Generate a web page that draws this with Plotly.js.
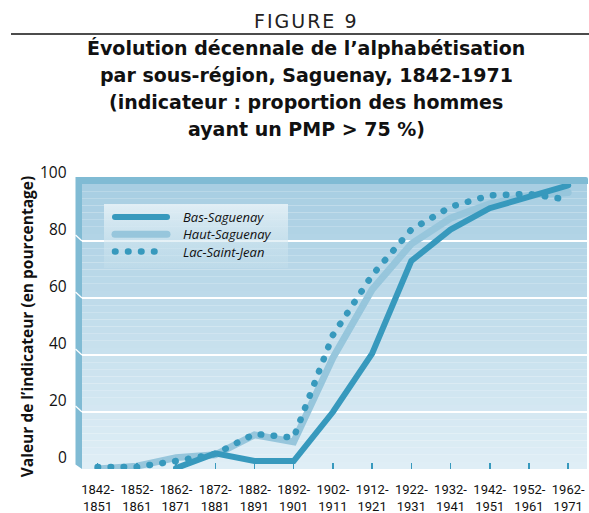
<!DOCTYPE html>
<html><head><meta charset="utf-8">
<script src="https://cdn.plot.ly/plotly-3.0.1.min.js"></script>
<style>
body{margin:0;background:#fff}
#chart{width:589px;height:513px}
.js-line{stroke-linecap:round !important}
.annotation[data-index="0"] text{letter-spacing:2px}
</style></head><body><div id="chart"></div>
<script>
// ---- data ----
const periods = ['1842-1851','1852-1861','1862-1871','1872-1881','1882-1891','1892-1901','1902-1911','1912-1921','1922-1931','1932-1941','1942-1951','1952-1961','1962-1971'];
const tickLabels = periods.map(p => p.replace('-', '-<br>'));
const basSaguenay  = [null, null, 0.3, 5.5, 2.8, 2.8, 20, 40.5, 73, 84, 91.5, 95.5, 99.5];
const hautSaguenay = [0, 1, 4, 5, 12, 9.5, 39, 63, 79, 88, 93, 96, 97];
const lacSaintJean = [0.7, 0.7, 2.8, 5.3, 12.3, 11, 47, 68, 84, 92, 96, 96.5, 94.5];
const yTicks = [0, 20, 40, 60, 80, 100];
const gridTicks = [20, 40, 60, 80];

// ---- geometry helpers (pixels -> paper) ----
const W = 589, H = 513, L = 82, R = 2, T = 184, B = 44;
const PW = W - L - R, PH = H - T - B;
const px = x => (x - L) / PW;
const py = y => (H - B - y) / PH;

const dark = '#3799bd', light = '#97c6dc', wall = '#80bbd4';
const sansR = 'DejaVu Sans, sans-serif';

const traces = [
  {x: periods, y: hautSaguenay, name: 'Haut-Saguenay', type: 'scatter', mode: 'lines',
   line: {color: light, width: 7}, legendrank: 2},
  {x: periods, y: basSaguenay, name: 'Bas-Saguenay', type: 'scatter', mode: 'lines',
   line: {color: dark, width: 6}, legendrank: 1},
  {x: periods, y: lacSaintJean, name: 'Lac-Saint-Jean', type: 'scatter', mode: 'lines',
   line: {color: dark, width: 6.5, dash: '0.5px,12.5px'}, legendrank: 3}
];

// background gradient bands
const shapes = [];
const cTop = [168, 206, 226], cBot = [223, 238, 246];
const N = 40;
for (let i = 0; i < N; i++) {
  const t = i / (N - 1);
  const c = cTop.map((v, k) => Math.round(v + (cBot[k] - v) * t));
  shapes.push({type: 'rect', xref: 'paper', yref: 'paper', layer: 'below',
    x0: 0, x1: 1, y0: 1 - (i + 1) / N, y1: 1 - i / N,
    fillcolor: `rgb(${c.join(',')})`, line: {width: 0}});
}
// 3D wall: top band + left side
shapes.push({type: 'path', xref: 'paper', yref: 'paper', layer: 'above',
  path: `M${px(75.5)},${py(177)} L${px(586)},${py(177)} Q${px(588)},${py(177)} ${px(588)},${py(179)} L${px(588)},${py(184)} L${px(82)},${py(184)} L${px(82)},${py(469)} L${px(75.5)},${py(464.5)} Z`,
  fillcolor: wall, line: {width: 0}});
// slanted grid on side wall
gridTicks.forEach(v => {
  shapes.push({type: 'line', xref: 'paper', yref: 'y', layer: 'above',
    x0: px(75.5), x1: px(82), y0: v + 6 / PH * 100, y1: v,
    line: {color: 'white', width: 1.3}});
});
// rule under FIGURE 9
shapes.push({type: 'line', xref: 'paper', yref: 'paper', x0: px(11), x1: px(589), y0: py(34), y1: py(34),
  line: {color: '#111', width: 1.3}});

const annotations = [];
annotations.push({text: 'FIGURE 9', xref: 'paper', yref: 'paper', x: px(306), y: py(21),
  xanchor: 'center', yanchor: 'middle', showarrow: false,
  font: {family: sansR, size: 19, color: '#222'}});
const titleLines = ['Évolution décennale de l’alphabétisation', 'par sous-région, Saguenay, 1842-1971',
  '(indicateur : proportion des hommes', 'ayant un PMP > 75 %)'];
const titleY = [48, 75, 102, 129];
titleLines.forEach((s, i) => annotations.push({text: '<b>' + s + '</b>', xref: 'paper', yref: 'paper',
  x: px(306), y: py(titleY[i]), xanchor: 'center', yanchor: 'middle', showarrow: false,
  font: {family: sansR, size: 19, color: '#111'}}));
yTicks.forEach(v => annotations.push({text: String(v), xref: 'paper', yref: 'y', x: px(69), y: v,
  yshift: 12, xanchor: 'right', yanchor: 'middle', showarrow: false,
  font: {family: 'Open Sans, sans-serif', size: 15.5, color: '#111'}}));

const layout = {
  width: W, height: H, margin: {l: L, r: R, t: T, b: B},
  paper_bgcolor: 'white', plot_bgcolor: 'rgba(0,0,0,0)',
  showlegend: true,
  legend: {x: px(110), y: py(204), xanchor: 'left', yanchor: 'top',
    bgcolor: 'rgba(232,242,247,0.75)', borderwidth: 0, itemwidth: 52,
    font: {family: 'Open Sans, sans-serif', size: 13, style: 'italic', color: '#111'},
    traceorder: 'normal'},
  xaxis: {type: 'category', range: [-0.398, 12.48], tickvals: periods, ticktext: tickLabels,
    ticks: 'inside', ticklen: 6, tickwidth: 1.5, tickcolor: dark, showgrid: false, zeroline: false,
    showline: false, fixedrange: true, ticklabelstandoff: 11,
    tickfont: {family: 'Roboto, sans-serif', size: 13, color: '#111'}},
  yaxis: {range: [0, 100], tickvals: gridTicks, showticklabels: false, ticks: '',
    gridcolor: 'white', gridwidth: 1.3, zeroline: false, showline: false,
    title: {text: '<b>Valeur de l’indicateur (en pourcentage)</b>', standoff: 43,
      font: {family: 'Open Sans, sans-serif', size: 15.5, color: '#111'}}},
  shapes, annotations
};

Plotly.newPlot('chart', traces, layout, {staticPlot: true, displayModeBar: false}).then(gd => {
  // tighten legend rows and widen its box to match the printed legend
  const leg = gd.querySelector('.legend');
  if (!leg) return;
  const legLeft = 110;
  const items = leg.querySelectorAll('.traces');
  items.forEach((g, i) => {
    const m = /translate\(([-\d.]+)[ ,]+([-\d.]+)\)/.exec(g.getAttribute('transform') || '');
    const tx = m ? parseFloat(m[1]) : 0;
    g.setAttribute('transform', `translate(${tx},${13 + 17.3 * i})`);
    const ln = g.querySelector('.js-line');
    if (ln) ln.setAttribute('d', 'M5,0h52');
    const tt = g.querySelector('text.legendtext');
    if (tt) tt.setAttribute('x', 73 - tx);
  });
  const svg = gd.querySelector('svg.main-svg');
  const ns = 'http://www.w3.org/2000/svg';
  const defs = svg.querySelector('defs');
  const lg = document.createElementNS(ns, 'linearGradient');
  lg.setAttribute('id', 'legGrad'); lg.setAttribute('x1', 0); lg.setAttribute('y1', 0);
  lg.setAttribute('x2', 0); lg.setAttribute('y2', 1);
  [['0', 'rgba(228,240,246,0.95)'], ['1', 'rgba(200,225,236,0.35)']].forEach(([o, c]) => {
    const s = document.createElementNS(ns, 'stop'); s.setAttribute('offset', o); s.setAttribute('stop-color', c);
    lg.appendChild(s);
  });
  defs.appendChild(lg);
  leg.querySelectorAll('rect.bg').forEach(bg => {
    bg.setAttribute('x', 104 - legLeft); bg.setAttribute('y', 0);
    bg.setAttribute('width', 184); bg.setAttribute('height', 64);
    bg.style.fill = 'url(#legGrad)'; bg.style.fillOpacity = 1;
  });
  leg.querySelectorAll('.scrollbox').forEach(sb => sb.removeAttribute('clip-path'));
});
</script></body></html>
